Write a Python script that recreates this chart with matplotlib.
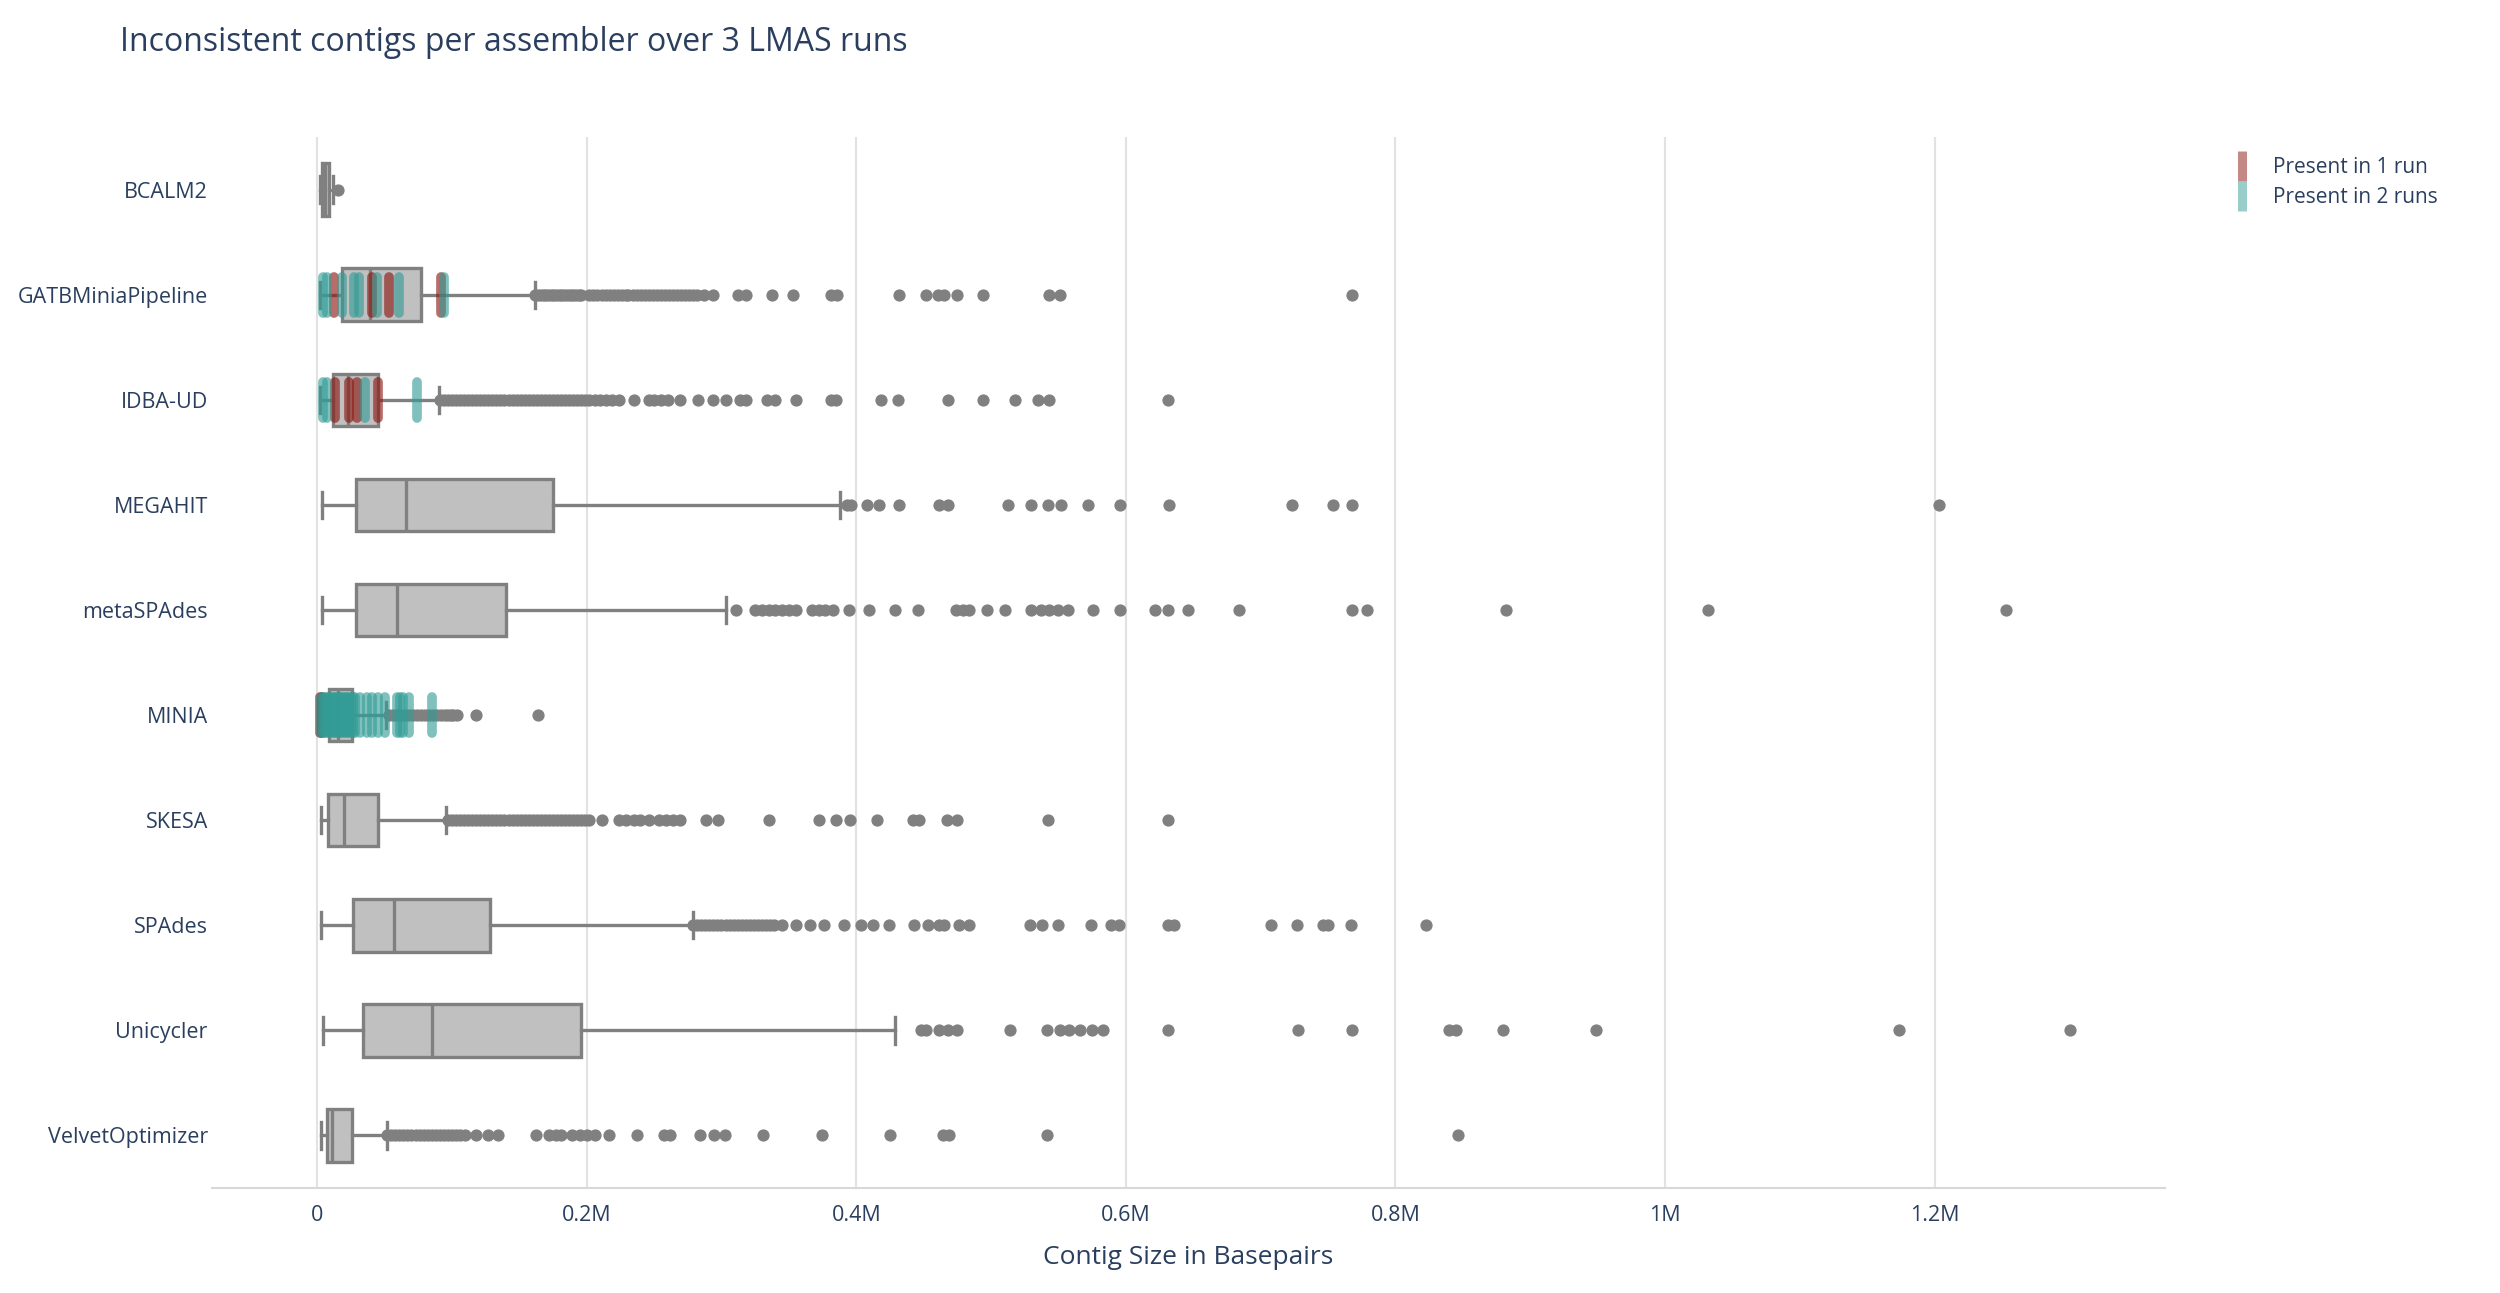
import matplotlib
matplotlib.use("Agg")
import matplotlib.pyplot as plt
from matplotlib.lines import Line2D
from matplotlib.markers import MarkerStyle

plt.rcParams["font.family"] = ["Open Sans", "DejaVu Sans"]

TEXT = "#2a3f5f"
GREY = "#808080"
BOX_FILL = "#c0c0c0"
RED = (0.55, 0.08, 0.05)
TEAL = (0.20, 0.61, 0.59)

# all sizes in kilobasepairs
assemblers = ["BCALM2", "GATBMiniaPipeline", "IDBA-UD", "MEGAHIT", "metaSPAdes",
              "MINIA", "SKESA", "SPAdes", "Unicycler", "VelvetOptimizer"]

whisker_low = [1.9, 2.0, 2.2, 3.5, 3.5, 1.5, 3.1, 3.0, 4.0, 2.8]
quart1 = [3.5, 18.8, 11.6, 29.0, 29.0, 8.9, 8.3, 26.5, 34.3, 7.3]
median = [6.0, 39.3, 22.8, 65.6, 59.6, 15.3, 19.7, 56.8, 85.2, 11.0]
quart3 = [9.1, 77.2, 45.0, 174.7, 140.0, 26.0, 44.8, 128.2, 195.5, 26.0]
whisker_high = [12.1, 161.6, 90.4, 388.3, 303.6, 51.0, 95.5, 278.5, 428.4, 51.6]

outliers = {
    "BCALM2": [15.8],
    "GATBMiniaPipeline": [
        162, 164, 166, 168, 170, 172, 174, 176, 178, 180, 182, 184, 186, 188, 190,
        192, 194, 196, 202, 205, 208, 211, 214, 217, 220, 223, 226, 229, 231, 234,
        237, 240, 243, 246, 249, 252, 255, 258, 261, 264, 267, 270, 273, 276, 279,
        282, 287, 293.5, 312.5, 318, 337.6, 353, 381, 386, 431.8, 451.7, 461, 465,
        474.8, 494, 542.7, 551, 768],
    "IDBA-UD": [
        91, 94, 97, 100, 103, 106, 109, 112, 115, 118, 121, 124, 127, 130, 133, 136,
        139, 142, 145, 148, 151, 154, 157, 160, 163, 166, 169, 172, 175, 178, 181,
        184, 187, 190, 193, 196, 199, 202, 206, 210, 214, 219, 224, 235, 246, 250,
        255, 260, 269.5, 282.6, 293.5, 303.5, 314, 318, 334, 340, 355.5, 381, 385,
        418, 431, 468, 494, 518, 535, 543, 631],
    "MEGAHIT": [
        393, 396, 408, 417, 431.8, 461.7, 468, 512.8, 530, 542.6, 552, 571.6, 596,
        632, 723.6, 753.5, 768, 1203.6],
    "metaSPAdes": [
        311, 325, 330, 335, 340, 345, 350, 355, 367, 372, 377, 383, 394.8, 409.6,
        428.4, 445.5, 474, 479, 484, 497, 510.7, 530, 537, 543, 550, 557, 575.8, 596,
        621.5, 631, 646, 684, 767.7, 779, 881.7, 1032, 1253.3],
    "MINIA": [
        53, 56, 59, 62, 65, 68, 71, 74, 77, 80, 83, 86, 89, 92, 95, 97, 99, 101,
        103.7, 118, 163.6],
    "SKESA": [
        97, 100, 103, 106, 109, 112, 115, 118, 121, 124, 127, 130, 133, 136, 139, 142,
        145, 148, 151, 154, 157, 160, 163, 166, 169, 172, 175, 178, 181, 184, 187,
        190, 193, 196, 199, 202, 211, 223.7, 229.2, 235, 239.4, 245.9, 253.7, 258.8,
        263.9, 269, 288.5, 297.3, 335.5, 372.2, 384.8, 395, 415.5, 441.8, 446.3,
        467.2, 474.5, 542.2, 631],
    "SPAdes": [
        279, 282, 285, 288, 291, 294, 297, 300, 303, 306, 309, 312, 315, 318, 321,
        324, 327, 330, 333, 336, 339, 345, 355.3, 366, 376.4, 390.7, 403.7, 412.2,
        424, 442.9, 453, 461.5, 465, 476, 483.6, 529, 538, 550, 574, 589, 594.6, 631,
        636, 708, 727, 746, 750, 767, 822.5],
    "Unicycler": [
        448, 452, 461.7, 468, 474.4, 513.7, 541.8, 551, 557.5, 566, 574.6, 583, 631,
        728, 767.7, 840, 845, 880, 949, 1174, 1300.6],
    "VelvetOptimizer": [
        52, 55, 58, 61, 64, 67, 70, 73, 76, 79, 82, 85, 88, 91, 94, 97, 100, 103, 106,
        109.5, 118, 126.6, 134, 162.4, 172, 177, 181, 189, 195, 200, 206, 216.3,
        237.3, 257, 261.7, 284, 294.2, 302.6, 331, 374.3, 425.4, 464.6, 469, 541.2,
        846.3],
}

# contigs flagged as inconsistent between runs
present_1_run = {
    "GATBMiniaPipeline": [12.6, 40.6, 53.5, 92.0],
    "IDBA-UD": [13.4, 23.3, 29.5, 45.0],
    "MINIA": [2.0, 3.5],
}
present_2_runs = {
    "GATBMiniaPipeline": [4.0, 7.0, 18.3, 27.0, 31.4, 44.3, 61.1, 93.8],
    "IDBA-UD": [4.7, 7.2, 35.6, 74.0],
    "MINIA": [2.5, 4.0, 5.5, 7.0, 8.5, 10.0, 11.5, 13.0, 14.5, 16.0, 17.5, 19.0,
              20.5, 22.0, 23.5, 25.0, 26.5, 28.0, 32.0, 37.0, 40.6, 44.8, 50.5,
              59.0, 61.5, 64.0, 68.0, 85.0],
}

tick_values = [0, 200, 400, 600, 800, 1000, 1200]
tick_labels = ["0", "0.2M", "0.4M", "0.6M", "0.8M", "1M", "1.2M"]

fig = plt.figure(figsize=(25, 12.93), dpi=100)
ax = fig.add_axes([0.0848, 0.0812, 0.7812, 0.8128])

stats = []
for i, name in enumerate(assemblers):
    stats.append({
        "whislo": whisker_low[i], "q1": quart1[i], "med": median[i],
        "q3": quart3[i], "whishi": whisker_high[i], "fliers": outliers[name],
    })

ax.bxp(stats, positions=range(len(assemblers)), orientation="horizontal",
       widths=0.5, capwidths=0.25, patch_artist=True, showfliers=True,
       boxprops=dict(facecolor=BOX_FILL, edgecolor=GREY, linewidth=2.4),
       medianprops=dict(color=GREY, linewidth=2.4),
       whiskerprops=dict(color=GREY, linewidth=2.4),
       capprops=dict(color=GREY, linewidth=2.4),
       flierprops=dict(marker="o", markerfacecolor=GREY, markeredgecolor=GREY,
                       markersize=7.8, linestyle="none"),
       zorder=2)

bar = MarkerStyle("|", capstyle="round")
for series, color in [(present_1_run, RED), (present_2_runs, TEAL)]:
    for name, values in series.items():
        y = assemblers.index(name)
        ax.plot(values, [y] * len(values), linestyle="none", marker=bar,
                markersize=26, markeredgewidth=7, color=color, alpha=0.62, zorder=3)

ax.set_ylim(len(assemblers) - 0.5, -0.5)
ax.set_xlim(-78, 1371)
ax.set_yticks(range(len(assemblers)))
ax.set_yticklabels(assemblers)
ax.set_xticks(tick_values)
ax.set_xticklabels(tick_labels)
ax.tick_params(axis="both", length=0, labelsize=15.5, labelcolor=TEXT)
ax.tick_params(axis="x", pad=12)
ax.tick_params(axis="y", pad=3)
ax.grid(True, axis="x", color="#e2e2e2", linewidth=1.5, zorder=0)
ax.set_axisbelow(True)
for side in ["top", "right", "left"]:
    ax.spines[side].set_visible(False)
ax.spines["bottom"].set_color("#d8d8d8")
ax.spines["bottom"].set_linewidth(1.5)

ax.set_xlabel("Contig Size in Basepairs", fontsize=19, color=TEXT, labelpad=14)
fig.text(0.048, 0.967, "Inconsistent contigs per assembler over 3 LMAS runs",
         fontsize=23, color=TEXT, va="center", ha="left")

handles = [
    Line2D([], [], linestyle="none", marker="|", markersize=22, markeredgewidth=6.5,
           color=RED, alpha=0.5, label="Present in 1 run"),
    Line2D([], [], linestyle="none", marker="|", markersize=22, markeredgewidth=6.5,
           color=TEAL, alpha=0.5, label="Present in 2 runs"),
]
fig.legend(handles=handles, loc="upper left", bbox_to_anchor=(0.885, 0.893),
           frameon=False, fontsize=15, labelcolor=TEXT, handlelength=1.0,
           handletextpad=1.0, labelspacing=0.45)

fig.savefig("out.png", dpi=100)
